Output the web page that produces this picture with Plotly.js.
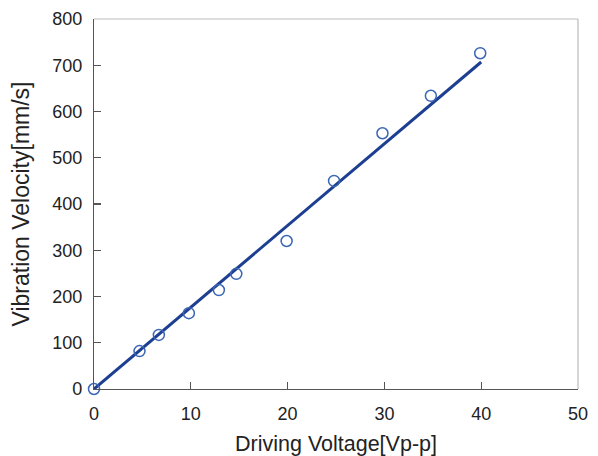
<!DOCTYPE html>
<html><head><meta charset="utf-8">
<script src="https://cdn.plot.ly/plotly-3.0.1.min.js"></script>
<style>body{margin:0;background:#fff}#c{width:598px;height:456px}</style>
</head><body><div id="c"></div>
<script>
const voltage = [0, 4.7, 6.7, 9.8, 12.9, 14.7, 19.9, 24.8, 29.8, 34.8, 39.9];
const velocity = [0, 82, 117, 164, 214, 249, 320, 450, 553, 634, 726];
const fitX = [0, 40];
const fitY = [0, 707];
const xTicks = [0, 10, 20, 30, 40, 50];
const yTicks = [0, 100, 200, 300, 400, 500, 600, 700, 800];

const traces = [
  {x: fitX, y: fitY, mode: 'lines', line: {color: '#1d3f91', width: 3}, hoverinfo: 'skip', cliponaxis: false},
  {x: voltage, y: velocity, mode: 'markers', cliponaxis: false,
   marker: {symbol: 'circle-open', size: 11, color: '#3a66b4', line: {width: 1.5, color: '#3a66b4'}}}
];
const ff = 'Liberation Sans, Arial, sans-serif';
const layout = {
  width: 598, height: 456,
  margin: {l: 94, r: 20, t: 19, b: 67},
  showlegend: false,
  paper_bgcolor: '#fff', plot_bgcolor: '#fff',
  font: {family: ff, color: '#222'},
  xaxis: {range: [0, 50], tickvals: xTicks, ticks: 'inside', ticklen: 7, tickcolor: '#555', tickwidth: 1.2,
    showgrid: false, zeroline: false, showline: true, linecolor: '#555', linewidth: 1.2,
    ticklabelstandoff: 8,
    tickfont: {size: 18, family: ff, color: '#222'},
    title: {text: 'Driving Voltage[Vp-p]', font: {size: 21.5, family: ff, color: '#222'}, standoff: 17}},
  yaxis: {range: [0, 800], tickvals: yTicks, ticks: 'inside', ticklen: 7, tickcolor: '#555', tickwidth: 1.2,
    showgrid: false, zeroline: false, showline: true, linecolor: '#555', linewidth: 1.2,
    ticklabelstandoff: 7,
    tickfont: {size: 18, family: ff, color: '#222'},
    title: {text: 'Vibration Velocity[mm/s]', font: {size: 23, family: ff, color: '#222'}, standoff: 16}},
  shapes: [
    {type: 'line', xref: 'paper', yref: 'paper', x0: 0, x1: 1, y0: 1, y1: 1, line: {color: '#bbb', width: 1.2}},
    {type: 'line', xref: 'paper', yref: 'paper', x0: 1, x1: 1, y0: 0, y1: 1, line: {color: '#bbb', width: 1.2}}
  ]
};
Plotly.newPlot('c', traces, layout, {staticPlot: true});
</script></body></html>
